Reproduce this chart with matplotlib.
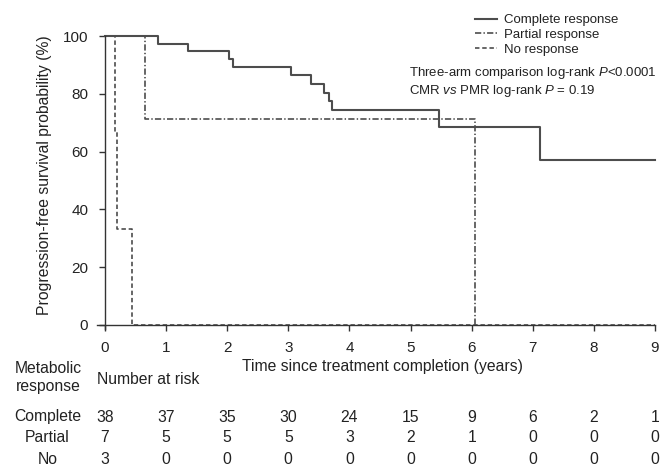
import matplotlib
matplotlib.use("Agg")
import matplotlib.pyplot as plt
from matplotlib.transforms import blended_transform_factory

# Kaplan-Meier steps (time in years, survival in %)
crTime = [0, 0.86, 1.36, 2.03, 2.10, 3.05, 3.37, 3.58, 3.66, 3.71, 5.47, 7.12, 9.0]
crSurv = [100, 97.4, 94.7, 92.0, 89.3, 86.4, 83.3, 80.4, 77.4, 74.3, 68.6, 57.2, 57.2]

prTime = [0, 0.655, 6.05]
prSurv = [100, 71.4, 0]

nrTime = [0, 0.165, 0.20, 0.45, 9.0]
nrSurv = [100, 66.7, 33.3, 0, 0]

riskTimes = [0, 1, 2, 3, 4, 5, 6, 7, 8, 9]
riskGroups = ["Complete", "Partial", "No"]
riskComplete = [38, 37, 35, 30, 24, 15, 9, 6, 2, 1]
riskPartial = [7, 5, 5, 5, 3, 2, 1, 0, 0, 0]
riskNo = [3, 0, 0, 0, 0, 0, 0, 0, 0, 0]

legendLabels = ["Complete response", "Partial response", "No response"]

plt.rcParams['font.family'] = ['Liberation Sans', 'DejaVu Sans']
plt.rcParams['mathtext.fontset'] = 'custom'
plt.rcParams['mathtext.rm'] = 'Liberation Sans'
plt.rcParams['mathtext.it'] = 'Liberation Sans:italic'
plt.rcParams['lines.scale_dashes'] = False

textColor = '#222222'
lineColor = '#4d4d4d'
bigFont = 11.3

W, H = 663, 467
fig = plt.figure(figsize=(W / 100, H / 100), dpi=100)
ax = fig.add_axes([97 / W, 1 - 329.3 / H, 558 / W, (329.3 - 36) / H])

ax.step(crTime, crSurv, where='post', color=lineColor, lw=1.5, clip_on=False,
        label=legendLabels[0])
ax.step(prTime, prSurv, where='post', color=lineColor, lw=1.2, clip_on=False,
        dashes=(4.5, 1.6, 1.0, 1.6), label=legendLabels[1])
ax.step(nrTime, nrSurv, where='post', color=lineColor, lw=1.2, clip_on=False,
        dashes=(3.2, 2.0), label=legendLabels[2])

ax.set_xlim(-0.13, 9)
ax.set_ylim(-1.5, 100)
ax.spines['left'].set_position(('data', 0))
ax.spines['bottom'].set_position(('data', 0))
ax.spines['top'].set_visible(False)
ax.spines['right'].set_visible(False)
for s in ['left', 'bottom']:
    ax.spines[s].set_color('#333333')
    ax.spines[s].set_linewidth(1.0)

ax.set_xticks(riskTimes)
ax.set_yticks([0, 20, 40, 60, 80, 100])
ax.tick_params(axis='both', labelsize=11, colors='#333333', labelcolor=textColor,
               length=4, width=1.0)
ax.tick_params(axis='x', pad=7.5)
ax.tick_params(axis='y', pad=8)

fig.text(45 / W, 1 - 175.5 / H, "Progression-free survival probability (%)",
         rotation=90, ha='center', va='center', fontsize=bigFont, color=textColor)
fig.text(382 / W, 1 - 367 / H, "Time since treatment completion (years)",
         ha='center', va='center', fontsize=bigFont, color=textColor)

leg = ax.legend(loc='upper left', bbox_to_anchor=(475 / W, 1 - 14 / H),
                bbox_transform=fig.transFigure, frameon=False, fontsize=9.5,
                handlelength=1.7, handletextpad=0.5, labelspacing=0.2,
                borderpad=0, borderaxespad=0)
for t in leg.get_texts():
    t.set_color(textColor)

fig.text(409 / W, 1 - 73 / H, "Three-arm comparison log-rank $P$<0.0001",
         ha='left', va='center', fontsize=9.5, color=textColor)
fig.text(409 / W, 1 - 91 / H, "CMR $vs$ PMR log-rank $P$ = 0.19",
         ha='left', va='center', fontsize=9.5, color=textColor)

# number at risk table
fig.text(48 / W, 1 - 377.5 / H, "Metabolic\nresponse", ha='center', va='center',
         fontsize=bigFont, color=textColor, linespacing=1.3)
fig.text(97 / W, 1 - 380 / H, "Number at risk", ha='left', va='center',
         fontsize=bigFont, color=textColor)

trans = blended_transform_factory(ax.transData, fig.transFigure)
rowY = [1 - 417 / H, 1 - 438 / H, 1 - 459 / H]
for name, counts, y in zip(riskGroups, [riskComplete, riskPartial, riskNo], rowY):
    fig.text(47.5 / W, y, name, ha='center', va='center', fontsize=bigFont, color=textColor)
    for t, n in zip(riskTimes, counts):
        ax.text(t, y, str(n), transform=trans, ha='center', va='center',
                fontsize=bigFont, color=textColor)

fig.savefig("out.png", dpi=100)
